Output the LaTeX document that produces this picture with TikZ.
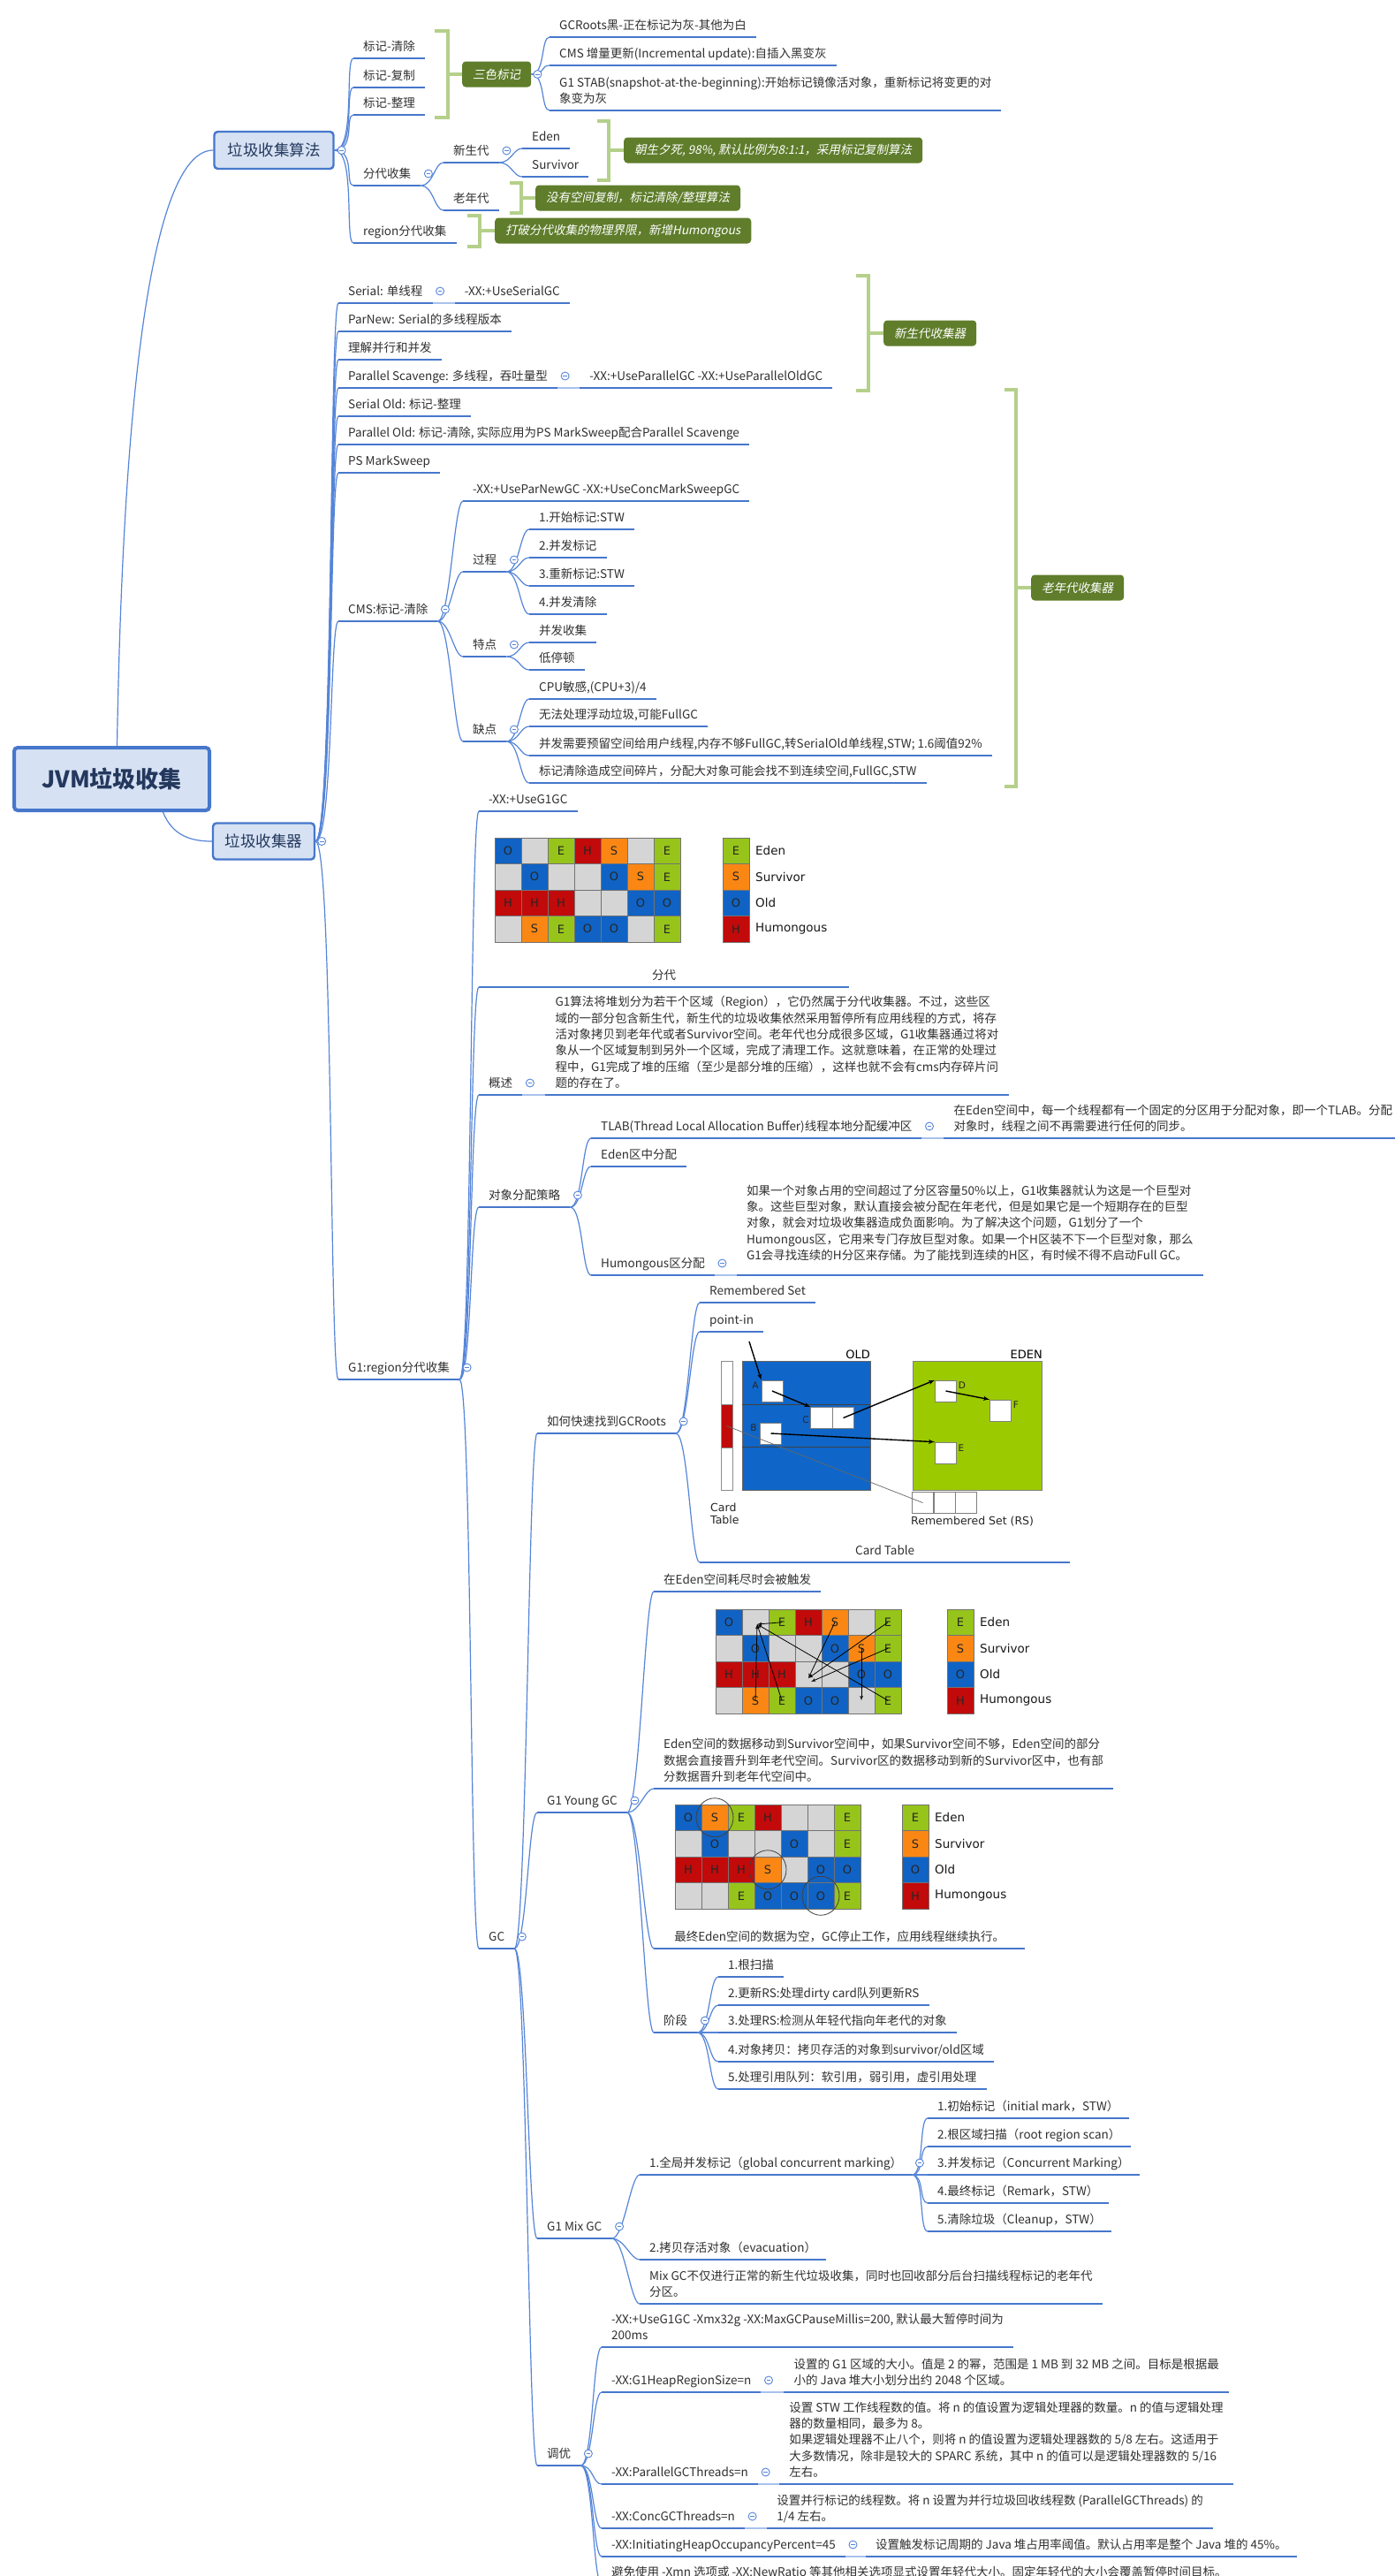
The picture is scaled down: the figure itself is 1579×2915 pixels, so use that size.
\documentclass[tikz,border=0pt]{standalone}
\usepackage{fontspec}
\setmainfont{Noto Sans CJK SC}[AutoFakeSlant=0.2]
\newfontfamily\cellfont{DejaVu Sans}
\usepackage{xcolor}
\usetikzlibrary{arrows}

\definecolor{ink}{HTML}{303030}
\definecolor{lineblue}{HTML}{4677CC}
\definecolor{branchblue}{HTML}{5585D8}
\definecolor{jointblue}{HTML}{A9C2EC}
\definecolor{boxfill}{HTML}{D6E2F3}
\definecolor{boxink}{HTML}{24385E}
\definecolor{sumfill}{HTML}{5F7D2B}
\definecolor{bracegreen}{HTML}{B5D08A}
\definecolor{cellO}{HTML}{1063C4}
\definecolor{cellE}{HTML}{96C41A}
\definecolor{cellS}{HTML}{FA8714}
\definecolor{cellH}{HTML}{C20A0A}
\definecolor{cellG}{HTML}{D5D5D5}
\definecolor{oldblue}{HTML}{0F66C8}
\definecolor{edengreen}{HTML}{9CCA00}

\newcommand{\link}[3][14]{\draw[branch] (#2) .. controls +(#1,0) and +(-10,0) .. (#3);}
\newcommand{\regionmap}[5]{%
  \foreach \rw [count=\ry] in {#5} {
    \foreach \kind [count=\cx] in \rw {
      \node[cell=\kind] (#1-\ry-\cx) at (#2+\cx*30-15, #3+\ry*29.5-14.75) {\if G\kind\else\kind\fi};
    }
  }
  \foreach \kind/\lab [count=\ry] in {E/Eden,S/Survivor,O/Old,H/Humongous} {
    \node[cell=\kind] (#1-l\ry) at (#4+15, #3+\ry*29.5-14.75) {\kind};
    \node[legend] (#1-t\ry) at (#4+37, #3+\ry*29.5-14.75) {\lab};
  }
}

\begin{document}
\begin{tikzpicture}[x=1pt,y=-1pt]
\tikzset{topic/.style={anchor=south west, inner xsep=11pt, inner ysep=5pt, align=left, text=ink,
    font=\fontsize{13.5}{18.3}\selectfont, execute at end node={\rule[-3.5pt]{0pt}{12pt}},
    append after command={(\tikzlastnode.south west) edge[uline] (\tikzlastnode.south east)}}}
\tikzset{uline/.style={draw=lineblue, line width=2.6pt}}
\tikzset{branch/.style={draw=branchblue, line width=1.2pt}}
\tikzset{joint/.style={draw=jointblue, line width=2.4pt}}
\tikzset{fold/.style={circle, draw=branchblue, fill=white, line width=0.9pt, minimum size=9pt, inner sep=0pt,
    path picture={\draw[branchblue, line width=0.9pt] ([xshift=-2.3pt]path picture bounding box.center) -- ([xshift=2.3pt]path picture bounding box.center);}}}
\tikzset{mainbox/.style={draw=lineblue, fill=boxfill, line width=2.4pt, rounded corners=4pt, text=boxink, inner sep=0pt, font=\fontsize{17.5}{20}\selectfont}}
\tikzset{rootbox/.style={mainbox, line width=4pt, font=\bfseries\fontsize{26}{30}\selectfont}}
\tikzset{summ/.style={anchor=west, fill=sumfill, rounded corners=4pt, text=white, inner xsep=12pt, inner ysep=0pt, minimum height=29pt, font=\itshape\fontsize{13.5}{16}\selectfont}}
\tikzset{brace/.style={draw=bracegreen, line width=4pt}}
\tikzset{cell/.style={fill=cell#1, draw=black!55, line width=0.6pt, minimum width=30pt, minimum height=29.5pt, inner sep=0pt, text=black!85, font=\cellfont\fontsize{13}{13}\selectfont}}
\tikzset{legend/.style={anchor=west, inner sep=0pt, text=black!90, font=\cellfont\fontsize{13.5}{14}\selectfont}}
\tikzset{slot/.style={draw=black!50, fill=white, line width=0.6pt, minimum width=24pt, minimum height=24pt, inner sep=0pt}}
\tikzset{tag/.style={inner sep=0pt, text=black!85, font=\cellfont\fontsize{10.5}{11}\selectfont}}
\tikzset{ptr/.style={->, >=latex', line width=1.4pt, draw=black}}
\tikzset{hop/.style={->, >=latex', line width=0.8pt, draw=black}}
\tikzset{ring/.style={draw=black!75, line width=0.8pt}}
\useasboundingbox (0,0) rectangle (1579,2915);
\fill[white] (0,0) rectangle (1579,2915);

\node[rootbox, minimum width=221pt, minimum height=71pt] (root) at (126.5,881.5) {JVM垃圾收集};
\node[mainbox, minimum width=135pt, minimum height=42pt] (alg) at (310,170) {垃圾收集算法};
\node[mainbox, minimum width=115pt, minimum height=41pt] (col) at (298.5,952) {垃圾收集器};

%algorithms
\node[topic] (a1) at (400,66) {标记-清除};
\node[topic] (a2) at (400,99) {标记-复制};
\node[topic] (a3) at (400,130) {标记-整理};
\node[topic] (a4) at (400,210) {分代收集};
\node[topic] (a41) at (502,184) {新生代};
\node[topic] (a411) at (591,168) {Eden};
\node[topic] (a412) at (591,200) {Survivor};
\node[topic] (a42) at (502,238) {老年代};
\node[topic] (a5) at (400,275) {region分代收集};
\node[summ] (s1) at (523,84) {三色标记};
\node[topic] (t1) at (622,42) {GCRoots黑-正在标记为灰-其他为白};
\node[topic] (t2) at (622,74) {CMS 增量更新(Incremental update):自插入黑变灰};
\node[topic] (t3) at (622,125) {G1 STAB(snapshot-at-the-beginning):开始标记镜像活对象，重新标记将变更的对\\象变为灰};
\node[summ] (s2) at (706,170) {朝生夕死, 98\%, 默认比例为8:1:1，采用标记复制算法};
\node[summ] (s3) at (606,224) {没有空间复制，标记清除/整理算法};
\node[summ] (s4) at (560,261) {打破分代收集的物理界限，新增Humongous};

%collectors
\node[topic] (c1) at (383,343) {Serial: 单线程};
\node[topic] (c11) at ([xshift=25pt]c1.south east) {-XX:+UseSerialGC};
\node[topic] (c2) at (383,375) {ParNew: Serial的多线程版本};
\node[topic] (c3) at (383,407) {理解并行和并发};
\node[topic] (c4) at (383,439) {Parallel Scavenge: 多线程，吞吐量型};
\node[topic] (c41) at ([xshift=25pt]c4.south east) {-XX:+UseParallelGC -XX:+UseParallelOldGC};
\node[topic] (c5) at (383,471) {Serial Old: 标记-整理};
\node[topic] (c6) at (383,503) {Parallel Old: 标记-清除, 实际应用为PS MarkSweep配合Parallel Scavenge};
\node[topic] (c7) at (383,535) {PS MarkSweep};
\node[topic] (c8) at (383,703) {CMS:标记-清除};
\node[topic] (c81) at (524,567) {-XX:+UseParNewGC -XX:+UseConcMarkSweepGC};
\node[topic] (c82) at (524,647) {过程};
\node[topic] (c821) at (599,599) {1.开始标记:STW};
\node[topic] (c822) at (599,631) {2.并发标记};
\node[topic] (c823) at (599,663) {3.重新标记:STW};
\node[topic] (c824) at (599,695) {4.并发清除};
\node[topic] (c83) at (524,743) {特点};
\node[topic] (c831) at (599,727) {并发收集};
\node[topic] (c832) at (599,758) {低停顿};
\node[topic] (c84) at (524,839) {缺点};
\node[topic] (c841) at (599,791) {CPU敏感,(CPU+3)/4};
\node[topic] (c842) at (599,822) {无法处理浮动垃圾,可能FullGC};
\node[topic] (c843) at (599,855) {并发需要预留空间给用户线程,内存不够FullGC,转SerialOld单线程,STW; 1.6阈值92\%};
\node[topic] (c844) at (599,886) {标记清除造成空间碎片，分配大对象可能会找不到连续空间,FullGC,STW};
\node[summ] (s5) at (1000,377) {新生代收集器};
\node[summ] (s6) at (1167,665) {老年代收集器};
\node[topic] (c9) at (383,1561) {G1:region分代收集};

%G1
\node[topic] (g1) at (542,918) {-XX:+UseG1GC};
\node[topic, minimum width=419pt] (g2) at (542,1117) {分代};
\node[topic] (g3) at (542,1239) {概述};
\node[topic] (g31) at ([xshift=26pt]g3.south east) {G1算法将堆划分为若干个区域（Region），它仍然属于分代收集器。不过，这些区\\域的一部分包含新生代，新生代的垃圾收集依然采用暂停所有应用线程的方式，将存\\活对象拷贝到老年代或者Survivor空间。老年代也分成很多区域，G1收集器通过将对\\象从一个区域复制到另外一个区域，完成了清理工作。这就意味着，在正常的处理过\\程中，G1完成了堆的压缩（至少是部分堆的压缩），这样也就不会有cms内存碎片问\\题的存在了。};
\node[topic] (g4) at (542,1366) {对象分配策略};
\node[topic] (g41) at (669,1288) {TLAB(Thread Local Allocation Buffer)线程本地分配缓冲区};
\node[topic] (g411) at ([xshift=25pt]g41.south east) {在Eden空间中，每一个线程都有一个固定的分区用于分配对象，即一个TLAB。分配\\对象时，线程之间不再需要进行任何的同步。};
\node[topic] (g42) at (669,1320) {Eden区中分配};
\node[topic] (g43) at (669,1443) {Humongous区分配};
\node[topic, inner ysep=14pt] (g431) at ([xshift=25pt]g43.south east) {如果一个对象占用的空间超过了分区容量50\%以上，G1收集器就认为这是一个巨型对\\象。这些巨型对象，默认直接会被分配在年老代，但是如果它是一个短期存在的巨型\\对象，就会对垃圾收集器造成负面影响。为了解决这个问题，G1划分了一个\\Humongous区，它用来专门存放巨型对象。如果一个H区装不下一个巨型对象，那么\\G1会寻找连续的H分区来存储。为了能找到连续的H区，有时候不得不启动Full GC。};
\node[topic] (g5) at (542,2205) {GC};
\node[topic] (g51) at (608,1622) {如何快速找到GCRoots};
\node[topic] (r1) at (792,1474) {Remembered Set};
\node[topic] (r2) at (792,1507) {point-in};
\node[topic, minimum width=419pt] (r3) at (792,1768) {Card Table};
\node[topic] (g52) at (608,2051) {G1 Young GC};
\node[topic] (y1) at (740,1801) {在Eden空间耗尽时会被触发};
\node[topic] (y2) at (740,2024) {Eden空间的数据移动到Survivor空间中，如果Survivor空间不够，Eden空间的部分\\数据会直接晋升到年老代空间。Survivor区的数据移动到新的Survivor区中，也有部\\分数据晋升到老年代空间中。};
\node[topic, minimum width=420pt] (y3) at (740,2205) {最终Eden空间的数据为空，GC停止工作，应用线程继续执行。};
\node[topic] (y4) at (740,2300) {阶段};
\node[topic] (y41) at (813,2237) {1.根扫描};
\node[topic] (y42) at (813,2269) {2.更新RS:处理dirty card队列更新RS};
\node[topic] (y43) at (813,2300) {3.处理RS:检测从年轻代指向年老代的对象};
\node[topic] (y44) at (813,2333) {4.对象拷贝：拷贝存活的对象到survivor/old区域};
\node[topic] (y45) at (813,2364) {5.处理引用队列：软引用，弱引用，虚引用处理};
\node[topic] (g53) at (608,2533) {G1 Mix GC};
\node[topic] (m1) at (724,2461) {1.全局并发标记（global concurrent marking）};
\node[topic] (m11) at (1050,2397) {1.初始标记（initial mark，STW）};
\node[topic] (m12) at (1050,2429) {2.根区域扫描（root region scan）};
\node[topic] (m13) at (1050,2461) {3.并发标记（Concurrent Marking）};
\node[topic] (m14) at (1050,2493) {4.最终标记（Remark，STW）};
\node[topic] (m15) at (1050,2525) {5.清除垃圾（Cleanup，STW）};
\node[topic] (m2) at (724,2557) {2.拷贝存活对象（evacuation）};
\node[topic] (m3) at (724,2607) {Mix GC不仅进行正常的新生代垃圾收集，同时也回收部分后台扫描线程标记的老年代\\分区。};
\node[topic] (g54) at (608,2790) {调优};
\node[topic] (u1) at (681,2656) {-XX:+UseG1GC -Xmx32g -XX:MaxGCPauseMillis=200, 默认最大暂停时间为\\200ms};
\node[topic] (u2) at (681,2707) {-XX:G1HeapRegionSize=n};
\node[topic] (u21) at ([xshift=26pt]u2.south east) {设置的 G1 区域的大小。值是 2 的幂，范围是 1 MB 到 32 MB 之间。目标是根据最\\小的 Java 堆大小划分出约 2048 个区域。};
\node[topic] (u3) at (681,2811) {-XX:ParallelGCThreads=n};
\node[topic] (u31) at ([xshift=24pt]u3.south east) {设置 STW 工作线程数的值。将 n 的值设置为逻辑处理器的数量。n 的值与逻辑处理\\器的数量相同，最多为 8。\\如果逻辑处理器不止八个，则将 n 的值设置为逻辑处理器数的 5/8 左右。这适用于\\大多数情况，除非是较大的 SPARC 系统，其中 n 的值可以是逻辑处理器数的 5/16\\左右。};
\node[topic] (u4) at (681,2861) {-XX:ConcGCThreads=n};
\node[topic] (u41) at ([xshift=25pt]u4.south east) {设置并行标记的线程数。将 n 设置为并行垃圾回收线程数 (ParallelGCThreads) 的\\1/4 左右。};
\node[topic] (u5) at (681,2893) {-XX:InitiatingHeapOccupancyPercent=45};
\node[topic] (u51) at ([xshift=23pt]u5.south east) {设置触发标记周期的 Java 堆占用率阈值。默认占用率是整个 Java 堆的 45\%。};
\node[topic] (u6) at (681,2924) {避免使用 -Xmn 选项或 -XX:NewRatio 等其他相关选项显式设置年轻代大小。固定年轻代的大小会覆盖暂停时间目标。};

%region maps
\regionmap{rg}{560}{948}{818}{{O,G,E,H,S,G,E},{G,O,G,G,O,S,E},{H,H,H,G,G,O,O},{G,S,E,O,O,G,E}}
\regionmap{yg}{810}{1821}{1072}{{O,G,E,H,S,G,E},{G,O,G,G,O,S,E},{H,H,H,G,G,O,O},{G,S,E,O,O,G,E}}
\regionmap{eg}{764}{2042}{1021}{{O,S,E,H,G,G,E},{G,O,G,G,O,G,E},{H,H,H,S,G,O,O},{G,G,E,O,O,O,E}}
\coordinate (hub1) at (857,1838);
\coordinate (hub2) at (915,1899);
\coordinate (hub3) at (918,1903);
\draw[hop] (yg-1-3.center) -- (hub1);
\draw[hop] (yg-4-2.center) -- (hub1);
\draw[hop] (yg-4-3.center) -- (hub1);
\draw[hop] (yg-4-7.center) -- (hub1);
\draw[hop] (yg-1-5.center) -- (hub2);
\draw[hop] (yg-1-7.center) -- (hub2);
\draw[hop] (yg-2-7.center) -- (hub3);
\draw[hop] (yg-2-6.center) -- (yg-4-6.center);
\draw[ring] (eg-1-2.center) circle[x radius=21pt, y radius=22pt];
\draw[ring] (eg-3-4.center) circle[x radius=21pt, y radius=22pt];
\draw[ring] (eg-4-6.center) circle[x radius=21pt, y radius=22pt];

%card table
\node[draw=black!45, fill=white, line width=0.7pt, minimum width=13pt, minimum height=146pt, inner sep=0pt] (card) at (822.5,1613) {};
\node[draw=black!45, fill=cellH, line width=0.7pt, minimum width=13pt, minimum height=49pt, inner sep=0pt] (dirty) at (822.5,1613.5) {};
\node[draw=black!60, fill=oldblue, line width=0.7pt, minimum width=145pt, minimum height=146pt, inner sep=0pt] (old) at (912.5,1613) {};
\node[draw=black!50, fill=edengreen, line width=0.7pt, minimum width=146pt, minimum height=146pt, inner sep=0pt] (eden) at (1106,1613) {};
\draw[black!75, line width=0.8pt] (840,1589) -- (985,1589);
\draw[black!75, line width=0.8pt] (840,1637) -- (985,1637);
\node[anchor=south east, inner sep=0pt, font=\cellfont\fontsize{13}{13}\selectfont] (oldlab) at (985,1538) {OLD};
\node[anchor=south east, inner sep=0pt, font=\cellfont\fontsize{13}{13}\selectfont] (edenlab) at (1180,1538) {EDEN};
\node[slot] (A) at (874,1574) {};
\node[slot, minimum width=24.5pt] (C1) at (930,1604.5) {};
\node[slot, minimum width=24.5pt] (C2) at (954.5,1604.5) {};
\node[slot] (B) at (872.5,1622) {};
\node[slot] (D) at (1070.5,1574) {};
\node[slot] (F) at (1132.5,1596) {};
\node[slot] (E) at (1070.5,1644) {};
\node[slot, fill=none] (RS1) at (1044.5,1700.5) {};
\node[slot, fill=none] (RS2) at (1069,1700.5) {};
\node[slot, fill=none] (RS3) at (1093.5,1700.5) {};
\node[tag] (Atag) at (855,1568) {A};
\node[tag] (Btag) at (853,1616) {B};
\node[tag] (Ctag) at (912,1607) {C};
\node[tag] (Dtag) at (1089,1568) {D};
\node[tag] (Ftag) at (1150,1590) {F};
\node[tag] (Etag) at (1088,1639) {E};
\node[anchor=west, inner sep=0pt, text=black!85, font=\cellfont\fontsize{12.5}{13}\selectfont] (rslab) at (1031,1722) {Remembered Set (RS)};
\node[anchor=north west, inner sep=0pt, align=left, text=black!85, font=\cellfont\fontsize{12.5}{14}\selectfont] (cardlab) at (804,1701) {Card\\Table};
\coordinate (pin) at (848,1518);
\draw[ptr] (pin) -- (A.north west);
\draw[ptr] (A.center) -- (C1.north west);
\draw[ptr] (C2.center) -- (D.north west);
\draw[ptr] (D.center) -- (F.north west);
\draw[ptr] (B.center) -- (E.north west);
\draw[black!60, line width=0.7pt] (dirty.center) -- (RS1.center);

%brackets
\draw[brace] (492,35) -- (507,35) -- (507,133) -- (492,133);
\draw[brace] (507,84) -- (s1.west);
\draw[brace] (676,137) -- (689,137) -- (689,204) -- (676,204);
\draw[brace] (689,170) -- (s2.west);
\draw[brace] (577,207) -- (590,207) -- (590,241) -- (577,241);
\draw[brace] (590,224) -- (s3.west);
\draw[brace] (529,244) -- (543,244) -- (543,279) -- (529,279);
\draw[brace] (543,261) -- (s4.west);
\draw[brace] (969,312) -- (983,312) -- (983,442) -- (969,442);
\draw[brace] (983,377) -- (s5.west);
\draw[brace] (1137,441) -- (1150,441) -- (1150,890) -- (1137,890);
\draw[brace] (1150,665) -- (s6.west);

%edges
\draw[branch] ([xshift=6pt]root.north) .. controls (140,400) and (178,170) .. (alg.west);
\draw[branch] ([xshift=58pt]root.south) .. controls (195,945) and (215,952) .. (col.west);
\foreach \n in {a1,a2,a3,a4,a5} {\link[24]{alg.east}{\n.south west}}
\foreach \n in {a41,a42} {\link{a4.south east}{\n.south west}}
\foreach \n in {a411,a412} {\link{a41.south east}{\n.south west}}
\foreach \n in {t1,t2,t3} {\link[16]{s1.east}{\n.south west}}
\foreach \n in {c1,c2,c3,c4,c5,c6,c7,c8,c9} {\link[20]{col.east}{\n.south west}}
\foreach \n in {c81,c82,c83,c84} {\link{c8.south east}{\n.south west}}
\foreach \n in {c821,c822,c823,c824} {\link{c82.south east}{\n.south west}}
\foreach \n in {c831,c832} {\link{c83.south east}{\n.south west}}
\foreach \n in {c841,c842,c843,c844} {\link{c84.south east}{\n.south west}}
\foreach \n in {g1,g2,g3,g4,g5} {\link{c9.south east}{\n.south west}}
\foreach \n in {g41,g42,g43} {\link{g4.south east}{\n.south west}}
\foreach \n in {g51,g52,g53,g54} {\link{g5.south east}{\n.south west}}
\foreach \n in {r1,r2,r3} {\link{g51.south east}{\n.south west}}
\foreach \n in {y1,y2,y3,y4} {\link{g52.south east}{\n.south west}}
\foreach \n in {y41,y42,y43,y44,y45} {\link{y4.south east}{\n.south west}}
\foreach \n in {m1,m2,m3} {\link{g53.south east}{\n.south west}}
\foreach \n in {m11,m12,m13,m14,m15} {\link{m1.south east}{\n.south west}}
\foreach \n in {u1,u2,u3,u4,u5,u6} {\link{g54.south east}{\n.south west}}
\foreach \p/\q in {c1/c11,c4/c41,g3/g31,g41/g411,g43/g431,u2/u21,u3/u31,u4/u41,u5/u51} {\draw[joint] (\p.south east) -- (\q.south west);}

%fold marks
\node[fold] (falg) at ([xshift=8pt]alg.east) {};
\node[fold] (fcol) at ([xshift=7pt]col.east) {};
\node[fold] (fs1) at ([xshift=7pt]s1.east) {};
\foreach \n in {a4,a41,c1,c4,c8,c82,c83,c84,c9,g3,g4,g41,g43,g5,g51,g52,y4,g53,m1,g54,u2,u3,u4,u5} {\node[fold] (f\n) at ([xshift=8.5pt,yshift=13.5pt]\n.south east) {};}
\end{tikzpicture}
\end{document}
